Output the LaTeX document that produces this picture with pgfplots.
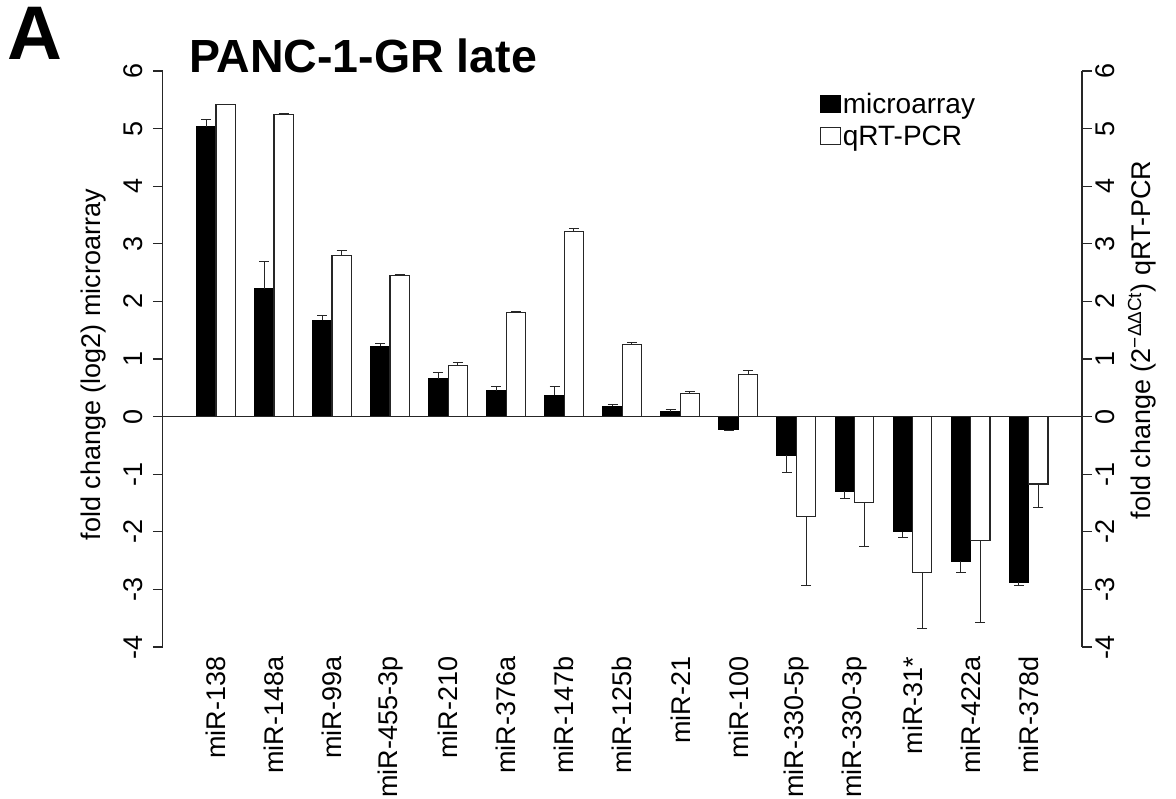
\documentclass[border=0pt]{standalone}
\usepackage{fontspec}
\setmainfont{Liberation Sans}
\usepackage{pgfplots}
\pgfplotsset{compat=1.18}
\usepackage{pgfplotstable}

% microarray, bars above zero (error upward); x = bar centre
\pgfplotstableread{
x y e
1.5 5.03 0.13
4.5 2.22 0.48
7.5 1.67 0.08
10.5 1.22 0.05
13.5 0.66 0.11
16.5 0.45 0.08
19.5 0.37 0.16
22.5 0.18 0.035
25.5 0.08 0.04
}\blackpos
% microarray, bars below zero (error downward)
\pgfplotstableread{
x y e
28.5 -0.23 0.01
31.5 -0.67 0.30
34.5 -1.30 0.12
37.5 -2.00 0.10
40.5 -2.51 0.19
43.5 -2.87 0.06
}\blackneg
% qRT-PCR, above zero
\pgfplotstableread{
x y e
2.5 5.42 0.0
5.5 5.25 0.01
8.5 2.79 0.09
11.5 2.455 0.01
14.5 0.89 0.05
17.5 1.81 0.01
20.5 3.22 0.04
23.5 1.245 0.035
26.5 0.40 0.035
29.5 0.735 0.07
}\whitepos
% qRT-PCR, below zero
\pgfplotstableread{
x y e
32.5 -1.735 1.19
35.5 -1.49 0.77
38.5 -2.70 0.98
41.5 -2.15 1.42
44.5 -1.17 0.415
}\whiteneg

\newcommand{\lblfont}{\fontsize{27}{27}\selectfont}

\begin{document}
\begin{tikzpicture}
\path[use as bounding box] (0,0) rectangle (1176pt,-799pt);
\node[anchor=base west, inner sep=0pt, font=\fontsize{76}{76}\selectfont\bfseries] at (7pt,-60pt) {A};
\node[anchor=base west, inner sep=0pt, font=\fontsize{46.5}{46.5}\selectfont\bfseries] at (189pt,-73pt) {PANC-1-GR late};

\begin{axis}[
  at={(162.5pt,-647pt)}, anchor=south west,
  scale only axis, width=919.5pt, height=576pt,
  xmin=-0.76, xmax=46.76, ymin=-4, ymax=6,
  axis y line*=left, axis x line*=bottom,
  axis line style={-, line width=1.2pt, black!85},
  x axis line style={draw=none},
  xtick={2,5,...,44},
  xticklabels={miR-138,miR-148a,miR-99a,miR-455-3p,miR-210,miR-376a,miR-147b,miR-125b,miR-21,miR-100,miR-330-5p,miR-330-3p,miR-31*,miR-422a,miR-378d},
  xtick pos=bottom, ytick pos=left,
  xtick style={draw=none},
  xticklabel style={rotate=90, anchor=east, inner sep=0pt, font=\lblfont},
  ytick={-4,...,6},
  yticklabels={-4,-3,-2,-1,0,1,2,3,4,5,6},
  yticklabel style={rotate=90, anchor=south, inner sep=0pt, font=\lblfont},
  yticklabel shift=10pt,
  tick align=outside, major tick length=9.5pt,
  ytick style={line width=1.2pt, black!85},
  ylabel={fold change (log2) microarray},
  ylabel style={at={(axis description cs:-0.067,0.49)}, anchor=base, font=\lblfont},
  legend style={at={(axis description cs:0.715,0.965)}, anchor=north west, draw=none, fill=none,
    inner sep=0pt, font=\fontsize{28}{28}\selectfont, row sep=8pt, legend cell align=left,
    nodes={inner sep=1.5pt}},
  legend image code/.code={\draw[#1] (0pt,-8.5pt) rectangle (20pt,8.5pt);},
  bar width=1,
  error bars/error bar style={line width=1pt, black!85},
  error bars/error mark options={rotate=90, mark size=5pt, line width=1pt, black!85},
]
\addplot[ybar, bar shift=0, fill=black, draw=black, line width=1.2pt,
  error bars/.cd, y dir=plus, y explicit]
  table[x=x, y=y, y error=e] {\blackpos};
\addplot[ybar, bar shift=0, fill=white, draw=black!85, line width=1.2pt,
  error bars/.cd, y dir=plus, y explicit]
  table[x=x, y=y, y error=e] {\whitepos};
\addplot[ybar, bar shift=0, fill=black, draw=black, line width=1.2pt, forget plot,
  error bars/.cd, y dir=minus, y explicit]
  table[x=x, y=y, y error=e] {\blackneg};
\addplot[ybar, bar shift=0, fill=white, draw=black!85, line width=1.2pt, forget plot,
  error bars/.cd, y dir=minus, y explicit]
  table[x=x, y=y, y error=e] {\whiteneg};
\addplot[black!85, line width=1.2pt, forget plot] coordinates {(-0.76,0) (46.76,0)};
\legend{microarray, qRT-PCR}
\end{axis}

\begin{axis}[
  at={(162.5pt,-647pt)}, anchor=south west,
  scale only axis, width=919.5pt, height=576pt,
  xmin=-0.76, xmax=46.76, ymin=-4, ymax=6,
  axis y line*=right, axis x line=none,
  axis line style={-, line width=1.2pt, black!85},
  ytick pos=right, yticklabel pos=right,
  ytick={-4,...,6},
  yticklabels={-4,-3,-2,-1,0,1,2,3,4,5,6},
  yticklabel style={rotate=90, anchor=north, inner sep=0pt, font=\lblfont},
  yticklabel shift=4pt,
  tick align=outside, major tick length=9.5pt,
  ytick style={line width=1.2pt, black!85},
  ylabel={fold change (2\textsuperscript{−ΔΔCt}) qRT-PCR},
  ylabel style={at={(axis description cs:1.074,0.533)}, anchor=base, rotate=0, font=\lblfont},
]
\addplot[draw=none, forget plot] coordinates {(0,0)};
\end{axis}
\end{tikzpicture}
\end{document}
